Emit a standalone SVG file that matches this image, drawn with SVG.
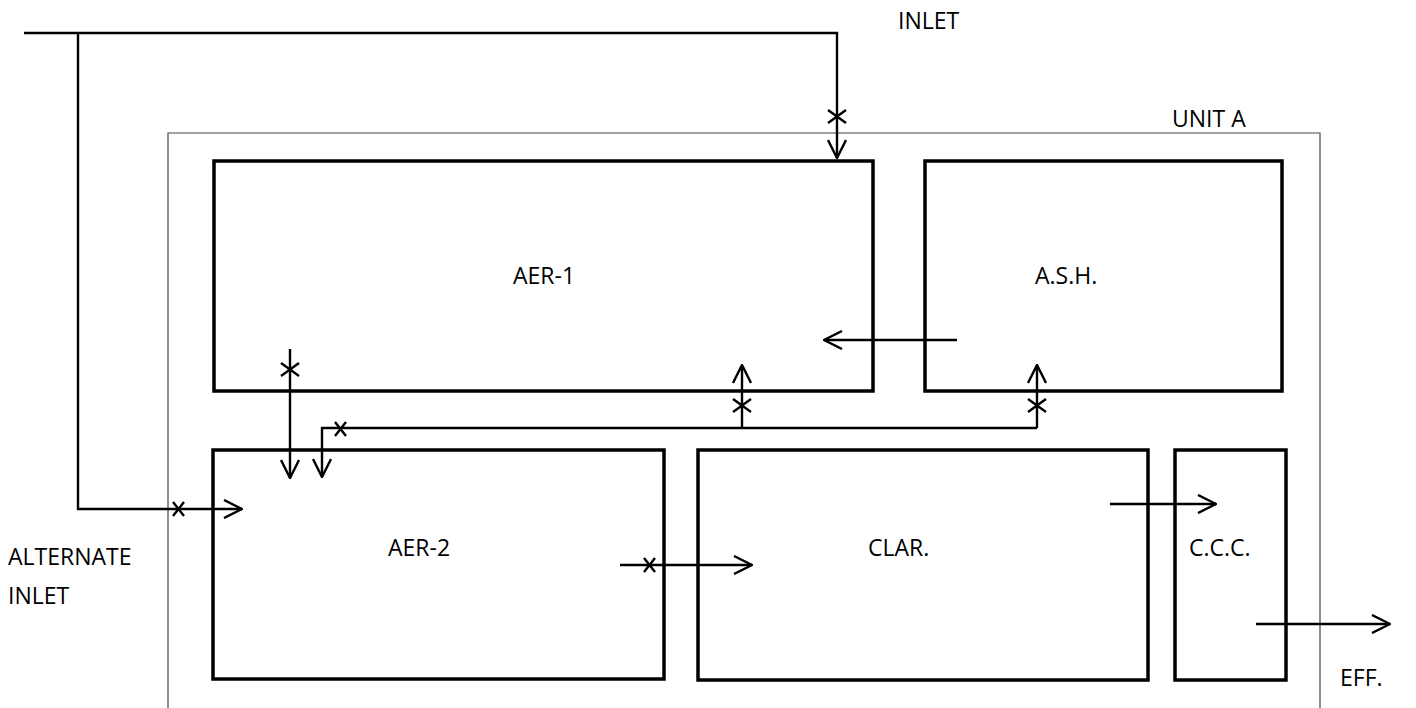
<svg xmlns="http://www.w3.org/2000/svg" width="1416" height="708" viewBox="0 0 1416 708">
<style>
.box{fill:none;stroke:#000;stroke-width:3.5}
.unit{fill:none;stroke:#444;stroke-width:1.2}
.ln{fill:none;stroke:#000;stroke-width:2.4}
.tx{font-family:"Open Sans","Liberation Sans",sans-serif;font-size:23px;fill:#000}
</style>
<defs>
<marker id="ah" viewBox="0 0 20 20" refX="19" refY="10" markerWidth="20" markerHeight="20" markerUnits="userSpaceOnUse" orient="auto">
<path d="M1,1 L19,10 L1,19" fill="none" stroke="#000" stroke-width="2.4"/>
</marker>
</defs>
<rect width="1416" height="708" fill="#fff"/>
<g id="unitA">
<path class="unit" d="M168,708 V133 H1320 V708"/>
<text class="tx" x="1172" y="127">UNIT A</text>
</g>
<g id="aer1"><rect class="box" x="214" y="161" width="659" height="230"/><text class="tx" x="513" y="284">AER-1</text></g>
<g id="ash"><rect class="box" x="925" y="161" width="357" height="230"/><text class="tx" x="1035" y="284">A.S.H.</text></g>
<g id="aer2"><rect class="box" x="213" y="450" width="451" height="229"/><text class="tx" x="388" y="556">AER-2</text></g>
<g id="clar"><rect class="box" x="698" y="450" width="450" height="230"/><text class="tx" x="868" y="556">CLAR.</text></g>
<g id="ccc"><rect class="box" x="1175" y="450" width="111" height="230"/><text class="tx" x="1189" y="556">C.C.C.</text></g>
<g id="labels">
<text class="tx" x="898" y="29">INLET</text>
<text class="tx" x="8" y="565">ALTERNATE</text>
<text class="tx" x="8" y="604">INLET</text>
<text class="tx" x="1340" y="686">EFF.</text>
</g>
<g id="connectors">
<path class="ln" d="M24,33 H837 V158" marker-end="url(#ah)"/>
<path class="ln" d="M78,33 V509 H242" marker-end="url(#ah)"/>
<path class="ln" d="M957,340 H824" marker-end="url(#ah)"/>
<path class="ln" d="M290,349 V478" marker-end="url(#ah)"/>
<path class="ln" d="M1037,428 H322 V477" marker-end="url(#ah)"/>
<path class="ln" d="M742,428 V365" marker-end="url(#ah)"/>
<path class="ln" d="M1037,428 V365" marker-end="url(#ah)"/>
<path class="ln" d="M620,565 H752" marker-end="url(#ah)"/>
<path class="ln" d="M1110,504 H1216" marker-end="url(#ah)"/>
<path class="ln" d="M1256,624 H1390" marker-end="url(#ah)"/>
<g class="ln">
<path d="M828,110 L846,123 M846,110 L828,123"/>
<path d="M281,363 L299,376 M299,363 L281,376"/>
<path d="M733,399 L751,412 M751,399 L733,412"/>
<path d="M1028,399 L1046,412 M1046,399 L1028,412"/>
<path d="M335,422 L346,436 M346,422 L335,436"/>
<path d="M173,502 L184,516 M184,502 L173,516"/>
<path d="M644,558 L655,572 M655,558 L644,572"/>
</g>
</g>
</svg>
